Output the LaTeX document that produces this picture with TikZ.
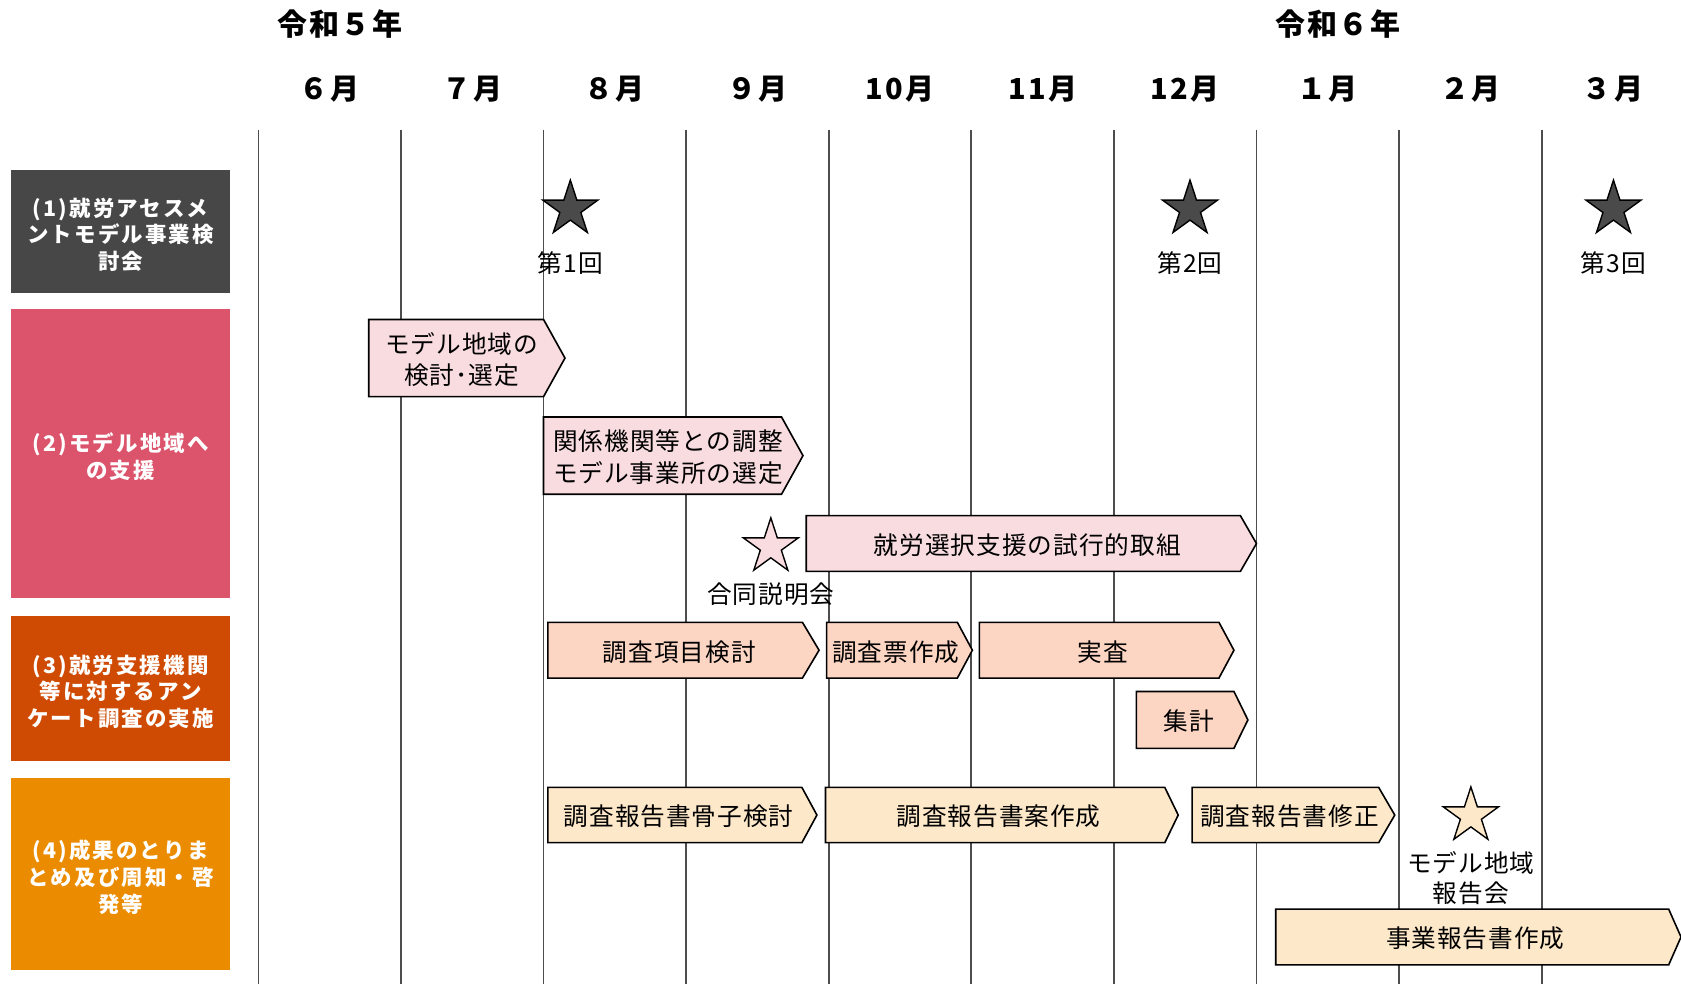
\documentclass[tikz,border=0pt]{standalone}
\usepackage{fontspec}
\usetikzlibrary{shapes.geometric}
\newfontfamily\jpmonth[LetterSpace=8]{Noto Sans CJK JP}
\newfontfamily\jptask[LetterSpace=4]{Noto Sans CJK JP}
\newfontfamily\jplab[LetterSpace=10]{Noto Sans CJK JP}
\newfontfamily\jphead[LetterSpace=5]{Noto Sans CJK JP}
\definecolor{gridgray}{HTML}{4D4D4D}
\definecolor{lab1}{HTML}{474747}
\definecolor{lab2}{HTML}{DB546B}
\definecolor{lab3}{HTML}{CF4A02}
\definecolor{lab4}{HTML}{EB8C00}
\definecolor{pinkfill}{HTML}{F8DCE0}
\definecolor{salmonfill}{HTML}{FCD5C3}
\definecolor{peachfill}{HTML}{FDE8C9}
\definecolor{darkstar}{HTML}{4A4A4A}
\newcommand\gtask[8]{%
  \draw[taskline, fill=#7] (#2,#3) -- (#4,#3) -- (#5,{(#3+#6)/2}) -- (#4,#6) -- (#2,#6) -- cycle;
  \node[tasktext] (#1) at ({(#2+#4)/2+(#5-#4)/4},{(#3+#6)/2}) {#8};}
\begin{document}
\begin{tikzpicture}[x=1pt,y=-1pt,
  gridline/.style={draw=gridgray, line width=1.6pt},
  taskline/.style={draw=black, line width=1.5pt, line join=miter},
  tasktext/.style={font=\jptask\fontsize{23}{29.5}\selectfont, align=center, inner sep=0pt, text=black, yshift=-1.5pt},
  labbox/.style={minimum width=205pt, inner sep=0pt, draw=none},
  labtext/.style={inner sep=0pt, text=white, align=center, yshift=-3pt,
     font=\jplab\bfseries\fontsize{20}{25}\selectfont},
  headtext/.style={font=\jphead\bfseries\fontsize{28}{30}\selectfont, inner sep=0pt},
  monthtext/.style={font=\jpmonth\bfseries\fontsize{27}{28}\selectfont, inner sep=0pt},
  milestone/.style={star, star points=5, star point ratio=2.618, minimum size=54pt,
     inner sep=0pt, draw=black, line width=1.3pt},
  mtext/.style={font=\jptask\fontsize{23}{28}\selectfont, align=center, inner sep=0pt, yshift=-1pt}]
\useasboundingbox (0,0) rectangle (1568,918);
\fill[white] (0,0) rectangle (1568,918);
% headers
\node[headtext] (y5) at (317,22) {令和５年};
\node[headtext] (y6) at (1248,22) {令和６年};
\foreach \m [count=\i from 0] in {６月,７月,８月,９月,10月,11月,12月,１月,２月,３月}{
  \node[monthtext] (m\i) at ({307.5+133*\i},83.5) {\m};
}
% grid lines
\foreach \i in {0,...,9}{
  \draw[gridline] ({241+133*\i},121) -- ({241+133*\i},918);
}
% category boxes
\node[labbox, fill=lab1, minimum height=114pt] (L1) at (112.5,216) {};
\node[labtext] (L1t) at (L1.center) {(1)就労アセスメ\\ントモデル事業検\\討会};
\node[labbox, fill=lab2, minimum height=270pt] (L2) at (112.5,423) {};
\node[labtext] (L2t) at (L2.center) {(2)モデル地域へ\\の支援};
\node[labbox, fill=lab3, minimum height=134.5pt] (L3) at (112.5,642.25) {};
\node[labtext] (L3t) at (L3.center) {(3)就労支援機関\\等に対するアン\\ケート調査の実施};
\node[labbox, fill=lab4, minimum height=179pt] (L4) at (112.5,815.5) {};
\node[labtext] (L4t) at (L4.center) {(4)成果のとりま\\とめ及び周知・啓\\発等};
% row 1 milestones
\node[milestone, fill=darkstar] (s1) at (532,195) {};
\node[mtext] (s1l) at (532,244) {第1回};
\node[milestone, fill=darkstar] (s2) at (1110,195) {};
\node[mtext] (s2l) at (1110,244) {第2回};
\node[milestone, fill=darkstar] (s3) at (1505,195) {};
\node[mtext] (s3l) at (1505,244) {第3回};
% row 2
\gtask{t1}{344}{298}{507}{527}{370}{pinkfill}{モデル地域の\\検討･選定}
\gtask{t2}{507}{389}{729}{749}{461}{pinkfill}{関係機関等との調整\\モデル事業所の選定}
\node[milestone, fill=pinkfill] (s4) at (719,510) {};
\node[mtext] (s4l) at (719,553) {合同説明会};
\gtask{t3}{752}{481}{1157}{1172}{533}{pinkfill}{就労選択支援の試行的取組}
% row 3
\gtask{t4}{511}{580.5}{748.5}{764}{632.5}{salmonfill}{調査項目検討}
\gtask{t5}{771}{580.5}{893}{907}{632.5}{salmonfill}{調査票作成}
\gtask{t6}{913.5}{580.5}{1137}{1151}{632.5}{salmonfill}{実査}
\gtask{t7}{1060}{645}{1151}{1164}{698}{salmonfill}{集計}
% row 4
\gtask{t8}{511}{734.5}{748}{762}{786}{peachfill}{調査報告書骨子検討}
\gtask{t9}{770}{734.5}{1086.5}{1099}{786}{peachfill}{調査報告書案作成}
\gtask{t10}{1112}{734.5}{1286}{1301}{786}{peachfill}{調査報告書修正}
\node[milestone, fill=peachfill] (s5) at (1372,761) {};
\node[mtext] (s5l) at (1372,817.8) {モデル地域\\報告会};
\gtask{t11}{1190}{848}{1556.5}{1568}{900}{peachfill}{事業報告書作成}
\end{tikzpicture}
\end{document}
